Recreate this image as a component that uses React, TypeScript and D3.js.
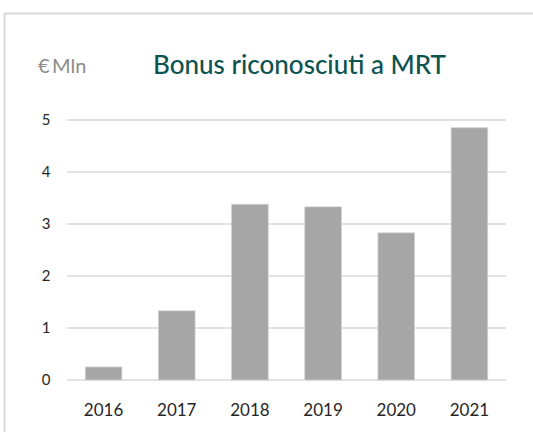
import { useEffect, useRef } from 'react';
import * as d3 from 'd3';

const years = ['2016', '2017', '2018', '2019', '2020', '2021'];
const bonus = [0.25, 1.33, 3.38, 3.33, 2.83, 4.85];
const yTicks = [0, 1, 2, 3, 4, 5];

const App = () => {
  const svgRef = useRef<SVGSVGElement>(null);

  useEffect(() => {
    const svg = d3.select(svgRef.current);
    svg.selectAll('*').remove();

    const width = 533;
    const height = 432;
    const font = 'Lato, "Open Sans", sans-serif';

    // frame around the chart
    svg.append('path')
      .attr('d', `M4.5,${height} V13.5 H${width}`)
      .attr('fill', 'none')
      .attr('stroke', '#d9d9d9')
      .attr('stroke-width', 2);

    // title and unit
    svg.append('text')
      .attr('x', 38)
      .attr('y', 73)
      .attr('font-family', font)
      .attr('font-size', 20)
      .attr('fill', '#8c8c8c')
      .text('€\u2009Mln');

    svg.append('text')
      .attr('x', 153)
      .attr('y', 74)
      .attr('font-family', font)
      .attr('font-size', 26)
      .attr('font-weight', 500)
      .attr('fill', '#0d5350')
      .text('Bonus riconosciuti a MRT');

    const x = d3.scaleBand()
      .domain(years)
      .range([67, 506])
      .paddingInner(0.5)
      .paddingOuter(0.25);

    const y = d3.scaleLinear()
      .domain([0, 5])
      .range([380, 120]);

    // gridlines
    svg.append('g')
      .selectAll('line')
      .data(yTicks)
      .enter()
      .append('line')
      .attr('x1', 67)
      .attr('x2', 506)
      .attr('y1', d => y(d))
      .attr('y2', d => y(d))
      .attr('stroke', '#d9d9d9')
      .attr('stroke-width', 1.5);

    // y labels
    svg.append('g')
      .selectAll('text')
      .data(yTicks)
      .enter()
      .append('text')
      .attr('x', 46)
      .attr('y', d => y(d))
      .attr('dy', '0.35em')
      .attr('text-anchor', 'middle')
      .attr('font-family', font)
      .attr('font-size', 15)
      .attr('fill', '#262626')
      .text(d => d);

    // bars
    svg.append('g')
      .selectAll('rect')
      .data(bonus)
      .enter()
      .append('rect')
      .attr('x', (d, i) => x(years[i]))
      .attr('y', d => y(d))
      .attr('width', x.bandwidth())
      .attr('height', d => y(0) - y(d))
      .attr('fill', '#a6a6a6')
      .attr('stroke', '#d0d0d0')
      .attr('stroke-width', 0.75);

    // x labels
    svg.append('g')
      .selectAll('text')
      .data(years)
      .enter()
      .append('text')
      .attr('x', d => x(d) + x.bandwidth() / 2)
      .attr('y', 416)
      .attr('text-anchor', 'middle')
      .attr('font-family', font)
      .attr('font-size', 17)
      .attr('fill', '#262626')
      .text(d => d);
  }, []);

  return (
    <svg
      ref={svgRef}
      width={533}
      height={432}
      style={{ position: 'absolute', left: 0, top: 0, background: '#fff' }}
    />
  );
};

export default App;
